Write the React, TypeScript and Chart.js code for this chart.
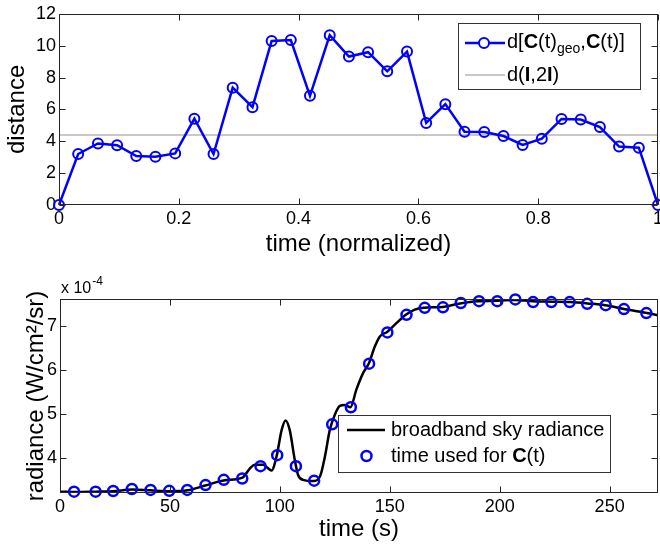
import React, { useEffect, useRef } from 'react';
import { Chart, registerables } from 'chart.js';
Chart.register(...registerables);

// ---------- Top chart data ----------
const topTimes = [0, 0.032, 0.065, 0.097, 0.129, 0.161, 0.194, 0.226, 0.258, 0.29, 0.323, 0.355, 0.387, 0.419, 0.452, 0.484,
  0.516, 0.548, 0.581, 0.613, 0.645, 0.677, 0.71, 0.742, 0.774, 0.806, 0.839, 0.871, 0.903, 0.935, 0.968, 1];
const topDistance = [0, 3.2, 3.86, 3.75, 3.07, 3.03, 3.24, 5.42, 3.2, 7.36, 6.14, 10.3, 10.35, 6.85, 10.66, 9.32,
  9.59, 8.39, 9.63, 5.15, 6.33, 4.6, 4.58, 4.33, 3.77, 4.16, 5.4, 5.36, 4.89, 3.67, 3.6, 0];
const refDistance = 4.39;
const topXTicks = [0, 0.2, 0.4, 0.6, 0.8, 1];
const topYTicks = [0, 2, 4, 6, 8, 10, 12];

// ---------- Bottom chart data (radiance in units of 1e-4 W/cm^2/sr) ----------
const curveTimes = [0, 8, 16, 24, 33, 41, 50, 58, 66, 75, 83, 86.4, 88.6, 92.4, 94.7, 96.2, 98.5, 100.8, 102.6, 104.5,
  106.8, 108.3, 110.6, 115.2, 118.2, 120.5, 122.7, 125, 127.3, 129.5, 132.1, 134.8, 137.9, 140.5, 143.2, 145.5, 148.8,
  153, 157.3, 161.4, 165.6, 174, 182, 190, 199, 207, 215, 224, 232, 240, 248, 256, 264, 272];
const curveRadiance = [3.24, 3.23, 3.24, 3.25, 3.29, 3.27, 3.25, 3.27, 3.38, 3.5, 3.56, 3.77, 3.85, 3.85, 3.77, 3.72,
  4.04, 4.64, 4.86, 4.64, 3.96, 3.62, 3.51, 3.48, 3.58, 4.04, 4.64, 4.99, 5.19, 5.21, 5.16, 5.56, 5.94, 6.16, 6.54,
  6.77, 6.87, 7.07, 7.26, 7.38, 7.42, 7.44, 7.52, 7.57, 7.58, 7.6, 7.57, 7.56, 7.55, 7.52, 7.48, 7.4, 7.33, 7.25];
const sampleTimes = [6.4, 16.2, 24.2, 32.7, 41.2, 49.7, 57.9, 66.2, 74.5, 82.9, 91.2, 98.8, 107.3, 115.6, 123.8, 132.3,
  140.6, 148.9, 157.6, 165.9, 174.2, 182.3, 190.6, 198.9, 207.1, 215.2, 223.5, 231.8, 239.8, 248.2, 256.5, 266.7];
const sampleRadiance = [3.24, 3.24, 3.255, 3.3, 3.28, 3.26, 3.28, 3.39, 3.51, 3.54, 3.82, 4.07, 3.82, 3.49, 4.77, 5.16,
  6.15, 6.86, 7.26, 7.42, 7.43, 7.53, 7.57, 7.57, 7.61, 7.55, 7.55, 7.55, 7.51, 7.48, 7.39, 7.3];
const botXTicks = [0, 50, 100, 150, 200, 250];
const botYTicks = [4, 5, 6, 7];

const FONT = '"Liberation Sans", Arial, Helvetica, sans-serif';
const BLUE = '#0000ff';

type Run = { t: string; bold?: boolean; sub?: boolean };
function drawRuns(ctx: CanvasRenderingContext2D, x: number, y: number, runs: Run[], size: number) {
  let cx = x;
  ctx.textBaseline = 'middle';
  ctx.textAlign = 'left';
  ctx.fillStyle = '#000';
  for (const r of runs) {
    const s = r.sub ? Math.round(size * 0.72) : size;
    ctx.font = `${r.bold ? 'bold ' : ''}${s}px ${FONT}`;
    ctx.fillText(r.t, cx, r.sub ? y + 7 : y);
    cx += ctx.measureText(r.t).width;
  }
}

function drawAxesBox(chart: any) {
  const { ctx, chartArea: a, scales } = chart;
  ctx.save();
  ctx.strokeStyle = '#262626';
  ctx.lineWidth = 1;
  const L = Math.round(a.left) + 0.5, R = Math.round(a.right) - 0.5;
  const T = Math.round(a.top) + 0.5, B = Math.round(a.bottom) - 0.5;
  ctx.strokeRect(L, T, R - L, B - T);
  const tl = 6;
  ctx.beginPath();
  for (const t of scales.x.ticks) {
    const px = Math.round(scales.x.getPixelForValue(t.value)) + 0.5;
    ctx.moveTo(px, B); ctx.lineTo(px, B - tl);
    ctx.moveTo(px, T); ctx.lineTo(px, T + tl);
  }
  for (const t of scales.y.ticks) {
    const py = Math.round(scales.y.getPixelForValue(t.value)) + 0.5;
    ctx.moveTo(L, py); ctx.lineTo(L + tl, py);
    ctx.moveTo(R, py); ctx.lineTo(R - tl, py);
  }
  ctx.stroke();
  ctx.restore();
}

function legendBox(ctx: CanvasRenderingContext2D, x: number, y: number, w: number, h: number) {
  ctx.fillStyle = '#fff';
  ctx.fillRect(x, y, w, h);
  ctx.strokeStyle = '#333';
  ctx.lineWidth = 1;
  ctx.strokeRect(x + 0.5, y + 0.5, w, h);
}

const topPlugin = {
  id: 'topDecor',
  afterDraw(chart: any) {
    drawAxesBox(chart);
    const ctx = chart.ctx as CanvasRenderingContext2D;
    ctx.save();
    legendBox(ctx, 458, 23, 182, 66);
    // row 1
    ctx.strokeStyle = BLUE; ctx.lineWidth = 2.5;
    ctx.beginPath(); ctx.moveTo(465, 43); ctx.lineTo(505, 43); ctx.stroke();
    ctx.lineWidth = 2;
    ctx.beginPath(); ctx.arc(484, 43, 5, 0, Math.PI * 2); ctx.fillStyle = '#fff'; ctx.fill(); ctx.stroke();
    drawRuns(ctx, 507, 42, [
      { t: 'd[' }, { t: 'C', bold: true }, { t: '(t)' }, { t: 'geo', sub: true }, { t: ',' },
      { t: 'C', bold: true }, { t: '(t)]' },
    ], 20);
    // row 2
    ctx.strokeStyle = '#c8c8c8'; ctx.lineWidth = 2;
    ctx.beginPath(); ctx.moveTo(465, 75); ctx.lineTo(505, 75); ctx.stroke();
    drawRuns(ctx, 507, 75, [
      { t: 'd(' }, { t: 'I', bold: true }, { t: ',2' }, { t: 'I', bold: true }, { t: ')' },
    ], 20);
    ctx.restore();
  },
};

const botPlugin = {
  id: 'botDecor',
  afterDraw(chart: any) {
    drawAxesBox(chart);
    const ctx = chart.ctx as CanvasRenderingContext2D;
    ctx.save();
    // exponent label
    ctx.fillStyle = '#000';
    ctx.textBaseline = 'alphabetic';
    ctx.textAlign = 'left';
    ctx.font = `16px ${FONT}`;
    ctx.fillText('x 10', 61, 23);
    const w = ctx.measureText('x 10').width;
    ctx.font = `12px ${FONT}`;
    ctx.fillText('-4', 61 + w + 1, 15);
    // legend
    legendBox(ctx, 338, 145, 272, 57);
    ctx.strokeStyle = '#000'; ctx.lineWidth = 2.5;
    ctx.beginPath(); ctx.moveTo(347, 160); ctx.lineTo(385, 160); ctx.stroke();
    drawRuns(ctx, 391, 160, [{ t: 'broadband sky radiance' }], 20);
    ctx.strokeStyle = BLUE; ctx.lineWidth = 2.5;
    ctx.beginPath(); ctx.arc(366.5, 186, 5, 0, Math.PI * 2); ctx.stroke();
    drawRuns(ctx, 391, 186, [{ t: 'time used for ' }, { t: 'C', bold: true }, { t: '(t)' }], 20);
    ctx.restore();
  },
};

const tickFont = { family: FONT, size: 18 };
const titleFont = { family: FONT, size: 24 };

export default function App() {
  const topRef = useRef<HTMLCanvasElement>(null);
  const botRef = useRef<HTMLCanvasElement>(null);

  useEffect(() => {
    const top = new Chart(topRef.current!, {
      type: 'line',
      data: {
        datasets: [
          {
            data: topTimes.map((t, i) => ({ x: t, y: topDistance[i] })),
            borderColor: BLUE,
            borderWidth: 2.5,
            pointRadius: 5,
            pointBorderWidth: 2,
            pointBorderColor: BLUE,
            pointBackgroundColor: 'rgba(255,255,255,0)',
            tension: 0,
            clip: false as any,
            order: 1,
          },
          {
            data: [{ x: topXTicks[0], y: refDistance }, { x: topXTicks[topXTicks.length - 1], y: refDistance }],
            borderColor: '#c8c8c8',
            borderWidth: 2,
            pointRadius: 0,
            order: 2,
          },
        ],
      },
      options: {
        responsive: false,
        animation: false,
        layout: { padding: { left: 0, top: 11, right: 22, bottom: 0 } },
        plugins: { legend: { display: false }, tooltip: { enabled: false } },
        scales: {
          x: {
            type: 'linear',
            min: 0,
            max: 1,
            afterBuildTicks: (s: any) => { s.ticks = topXTicks.map((v) => ({ value: v })); },
            afterFit: (s: any) => { s.height = 65; },
            grid: { display: false, drawTicks: false },
            border: { display: false },
            ticks: { font: tickFont, color: '#000', padding: 3, maxRotation: 0, callback: (v: any) => String(v) },
            title: { display: true, text: 'time (normalized)', font: titleFont, color: '#000', padding: { top: 0, bottom: 11 } },
          },
          y: {
            type: 'linear',
            min: 0,
            max: 12,
            afterBuildTicks: (s: any) => { s.ticks = topYTicks.map((v) => ({ value: v })); },
            afterFit: (s: any) => { s.width = 59; },
            grid: { display: false, drawTicks: false },
            border: { display: false },
            ticks: { font: tickFont, color: '#000', padding: 3, callback: (v: any) => String(v) },
            title: { display: true, text: 'distance', font: titleFont, color: '#000', padding: { top: 3, bottom: 0 } },
          },
        },
      },
      plugins: [topPlugin],
    } as any);

    const bot = new Chart(botRef.current!, {
      type: 'line',
      data: {
        datasets: [
          {
            data: curveTimes.map((t, i) => ({ x: t, y: curveRadiance[i] })),
            borderColor: '#000',
            borderWidth: 2.5,
            pointRadius: 0,
            cubicInterpolationMode: 'monotone',
            order: 2,
          },
          {
            data: sampleTimes.map((t, i) => ({ x: t, y: sampleRadiance[i] })),
            showLine: false,
            pointRadius: 5,
            pointBorderWidth: 2.5,
            pointBorderColor: BLUE,
            pointBackgroundColor: 'rgba(255,255,255,0)',
            clip: false as any,
            order: 1,
          },
        ],
      },
      options: {
        responsive: false,
        animation: false,
        layout: { padding: { left: 0, top: 29, right: 22, bottom: 0 } },
        plugins: { legend: { display: false }, tooltip: { enabled: false } },
        scales: {
          x: {
            type: 'linear',
            min: 0,
            max: 272,
            afterBuildTicks: (s: any) => { s.ticks = botXTicks.map((v) => ({ value: v })); },
            afterFit: (s: any) => { s.height = 55; },
            grid: { display: false, drawTicks: false },
            border: { display: false },
            ticks: { font: tickFont, color: '#000', padding: 3, maxRotation: 0, callback: (v: any) => String(v) },
            title: { display: true, text: 'time (s)', font: titleFont, color: '#000', padding: { top: 0, bottom: 4 } },
          },
          y: {
            type: 'linear',
            min: 3.21,
            max: 7.62,
            afterBuildTicks: (s: any) => { s.ticks = botYTicks.map((v) => ({ value: v })); },
            afterFit: (s: any) => { s.width = 60; },
            grid: { display: false, drawTicks: false },
            border: { display: false },
            ticks: { font: tickFont, color: '#000', padding: 3, callback: (v: any) => String(v) },
            title: { display: true, text: 'radiance (W/cm²/sr)', font: titleFont, color: '#000', padding: { top: 22, bottom: 0 } },
          },
        },
      },
      plugins: [botPlugin],
    } as any);

    return () => { top.destroy(); bot.destroy(); };
  }, []);

  return (
    <div style={{ position: 'absolute', left: 0, top: 0, width: 660, height: 548, overflow: 'hidden', background: '#fff' }}>
      <canvas ref={topRef} width={680} height={270} style={{ position: 'absolute', left: 0, top: 0 }} />
      <canvas ref={botRef} width={680} height={278} style={{ position: 'absolute', left: 0, top: 270 }} />
    </div>
  );
}
